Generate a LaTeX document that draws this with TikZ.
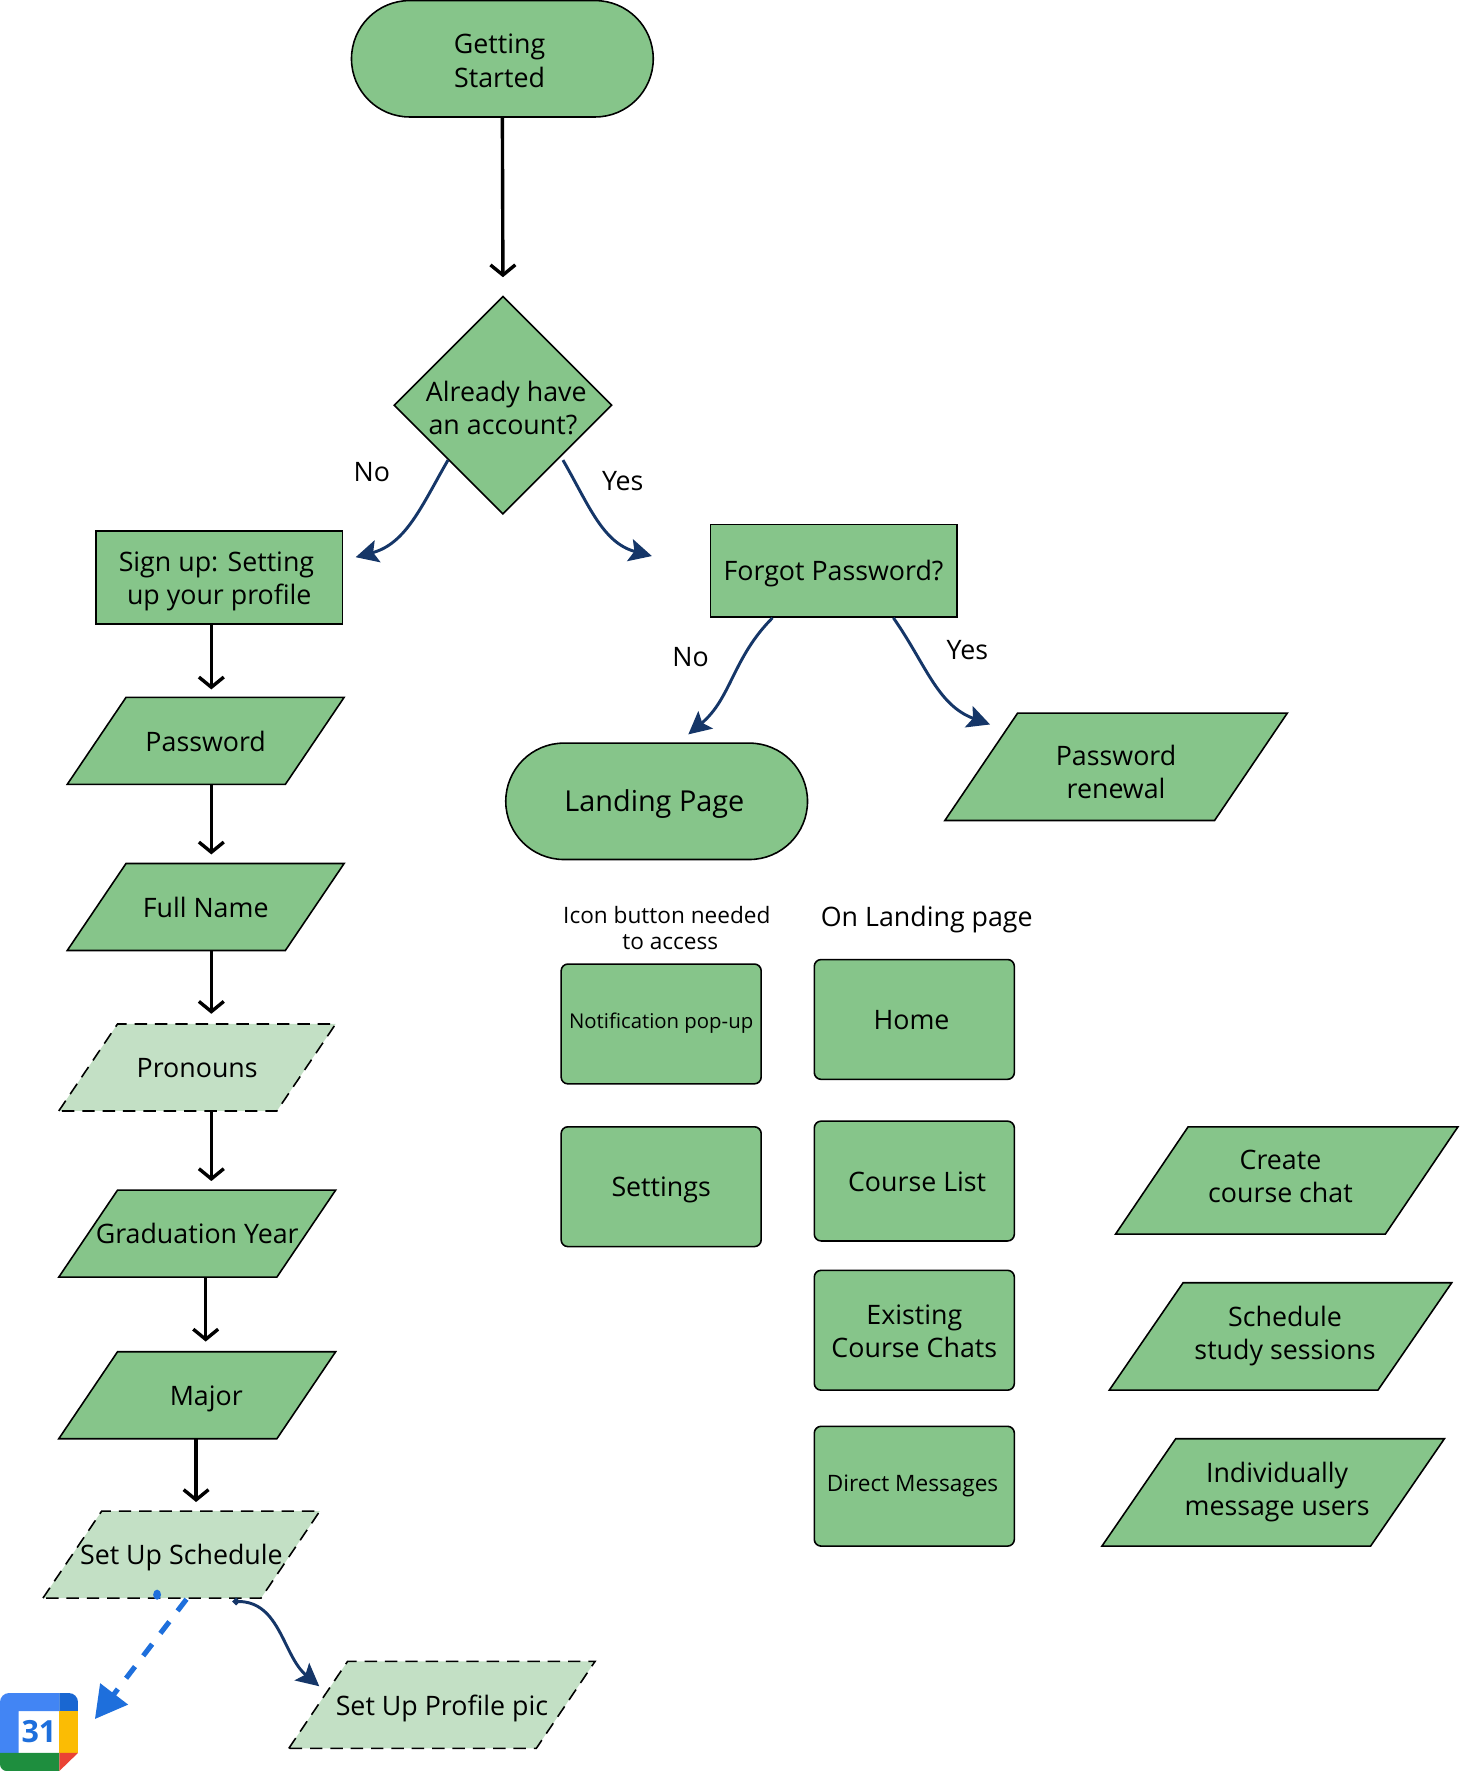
\documentclass[tikz,border=0pt]{standalone}
\usepackage{fontspec}
\setmainfont{Open Sans}
\usetikzlibrary{arrows.meta,shapes.geometric,shapes.misc}
\definecolor{nodegreen}{HTML}{86C58A}
\definecolor{lightgreen}{HTML}{C3E0C5}
\definecolor{navyline}{HTML}{153668}
\definecolor{calblue}{HTML}{1E6FDC}
\newcommand{\firstline}[1]{\rule{0pt}{#1pt}}
\tikzset{
  basenode/.style={draw,fill=nodegreen,line width=1.4pt,align=center,font=\fontsize{23.7}{29}\selectfont,text=black,
    execute at begin node={\rule[-7pt]{0pt}{32pt}}},
  smalltext/.style={font=\fontsize{#1}{24}\selectfont},
  terminal/.style={basenode,rounded rectangle,minimum width=267pt,minimum height=103pt,inner sep=0pt},
  boxnode/.style={basenode,rectangle,minimum width=218pt,minimum height=82pt,inner sep=0pt},
  pagebox/.style={basenode,rectangle,rounded corners=6pt,minimum width=177pt,minimum height=106pt,inner sep=0pt},
  decision/.style={basenode,diamond,minimum width=193pt,minimum height=193pt,inner sep=-8pt},
  dataio/.style={basenode,trapezium,trapezium left angle=31.6,trapezium right angle=148.4,trapezium stretches body=true,
    minimum width=245pt,minimum height=77pt,inner xsep=-50pt,inner ysep=0pt},
  bigdata/.style={dataio,trapezium left angle=39.6,trapezium right angle=140.4,minimum width=303pt,minimum height=95pt},
  optional/.style={dataio,fill=lightgreen,dashed,dash pattern=on 11pt off 7pt},
  caption/.style={font=\fontsize{23.7}{29}\selectfont,text=black,inner sep=0pt,align=center},
  flowline/.style={draw,line width=3pt,-{Straight Barb[length=9pt,width=22pt,line width=3pt]}},
  curveline/.style={draw,navyline,line width=2.6pt,-{Stealth[length=20pt,width=20pt,inset=4pt]}},
}
\begin{document}
\begin{tikzpicture}[x=1pt,y=-1pt]
\useasboundingbox (0,0) rectangle (1292,1567);

\node[terminal] (start) at (444.5,52) {\firstline{28}\hspace*{-5pt}Getting\\[1pt]\hspace*{-5pt}Started};
\node[decision] (account) at (445,358.5) {\firstline{30}\hspace*{6pt}Already have\\an account?};
\node[boxnode] (signup) at (194,511) {\firstline{26}\hspace*{-5pt}Sign up: Setting\\up your profile};
\node[boxnode] (forgot) at (737.5,505) {Forgot Password?};
\node[terminal,smalltext=25.5] (landing) at (581,709) {\hspace*{-4pt}Landing Page};

\node[dataio] (password) at (182,655.5) {Password};
\node[dataio] (fullname) at (182,802.5) {Full Name};
\node[optional] (pronouns) at (174.5,944.5) {Pronouns};
\node[dataio] (gradyear) at (174.5,1091.5) {Graduation Year};
\node[dataio] (major) at (174.5,1234.5) {\hspace*{16pt}Major};
\node[optional] (schedule) at (160.5,1375.5) {Set Up Schedule};
\node[optional,minimum width=271pt] (profilepic) at (391,1508.5) {Set Up Profile pic};

\node[bigdata,trapezium left angle=47.4,trapezium right angle=132.6] (renewal) at (987.5,678.5) {\firstline{34}Password\\renewal};
\node[bigdata] (coursechat) at (1138.5,1044.5) {Create\hspace*{11pt}\\course chat\hspace*{11pt}};
\node[bigdata] (studysession) at (1133,1182.5) {\hspace*{8pt}Schedule\\\hspace*{8pt}study sessions};
\node[bigdata] (messageusers) at (1126.5,1320.5) {\hspace*{7pt}Individually\\\hspace*{7pt}message users};

\node[pagebox,smalltext=18] (notify) at (585,906) {\raisebox{5pt}{Notification pop-up}};
\node[pagebox] (settings) at (585,1050) {Settings};
\node[pagebox] (home) at (809,902) {\hspace*{-5pt}Home};
\node[pagebox] (courselist) at (809,1045) {\hspace*{5pt}Course List};
\node[pagebox] (coursechats) at (809,1177) {\firstline{26}Existing\\Course Chats};
\node[pagebox,smalltext=20] (directmsg) at (809,1315) {\raisebox{4pt}{\hspace*{-3pt}Direct Messages}};

\node[caption,font=\fontsize{20}{23}\selectfont] (iconcap) at (590,821) {Icon button needed\\\hspace*{6pt}to access};
\node[caption] (landingcap) at (820,814) {On Landing page};
\node[caption] (nolabel) at (329,418) {No};
\node[caption] (yeslabel) at (551,426) {Yes};
\node[caption] (nolabeltwo) at (611,581) {No};
\node[caption] (yeslabeltwo) at (856,575) {Yes};

% calendar icon
\fill[color={rgb,255:red,66;green,133;blue,244}] (8,1498) -- (52.5,1498) -- (52.5,1514) -- (16.5,1514) -- (16.5,1551) -- (0,1551) -- (0,1506) arc[start angle=180,end angle=270,radius=8] -- cycle;
\fill[color={rgb,255:red,25;green,103;blue,210}] (52.5,1498) -- (61,1498) arc[start angle=270,end angle=360,radius=8] -- (69,1514) -- (52.5,1514) -- cycle;
\fill[color={rgb,255:red,251;green,188;blue,4}] (52.5,1514) rectangle (69,1551);
\fill[color={rgb,255:red,30;green,142;blue,62}] (0,1551) -- (0,1561) arc[start angle=180,end angle=90,radius=6] -- (52.5,1567) -- (52.5,1551) -- cycle;
\fill[color={rgb,255:red,234;green,67;blue,53}] (52.5,1551) -- (69,1551) -- (52.5,1567) -- cycle;
\node[fill=white,minimum size=36pt,inner sep=0pt,text=calblue,font=\fontsize{27}{27}\selectfont\bfseries] (calendar) at (34.5,1532.5) {31};

\path[flowline] (start.south) -- ([yshift=16pt]account.north);
\path[flowline] ([xshift=-7pt]signup.south) -- ([xshift=5pt,yshift=45.5pt]password.center);
\path[flowline] ([xshift=5pt,yshift=-38.5pt]password.center) -- ([xshift=5pt,yshift=46.5pt]fullname.center);
\path[flowline] ([xshift=5pt,yshift=-38.5pt]fullname.center) -- ([xshift=12.5pt,yshift=47.5pt]pronouns.center);
\path[flowline] ([xshift=12.5pt,yshift=-38.5pt]pronouns.center) -- ([xshift=12.5pt,yshift=46.5pt]gradyear.center);
\path[flowline] ([xshift=7.5pt,yshift=-38.5pt]gradyear.center) -- ([xshift=7.5pt,yshift=47.5pt]major.center);
\path[flowline] ([xshift=-1pt,yshift=-38.5pt]major.center) -- ([xshift=13pt,yshift=46.5pt]schedule.center);

\path[curveline] (account.south west) to[out=-120,in=15] ([xshift=11pt,yshift=18pt]signup.east);
\path[curveline] ([xshift=4.5pt]account.south east) to[out=-60,in=165] ([xshift=-51pt,yshift=13pt]forgot.west);
\path[curveline] ([xshift=-54pt]forgot.south) to[out=-135,in=40] ([xshift=28pt,yshift=7pt]landing.north);
\path[curveline] ([xshift=53pt]forgot.south) to[out=-55,in=160] ([xshift=-111.5pt,yshift=37.5pt]renewal.center);
\path[curveline,{Circle[length=6pt]}-{Stealth[length=20pt,width=20pt,inset=4pt]}] ([xshift=45.5pt,yshift=-41.5pt]schedule.center) to[out=0,in=140] ([xshift=-108.5pt,yshift=16.5pt]profilepic.center);

\fill[calblue] ([xshift=-21.5pt,yshift=-35.5pt]schedule.center) circle[x radius=3.5pt,y radius=4.5pt];
\path[draw,calblue,line width=4.5pt,dash pattern=on 13pt off 12pt,-{Triangle[length=28pt,width=30pt]}] ([xshift=4.5pt,yshift=-39.5pt]schedule.center) -- ([xshift=49.5pt,yshift=11.5pt]calendar.center);
\end{tikzpicture}
\end{document}
